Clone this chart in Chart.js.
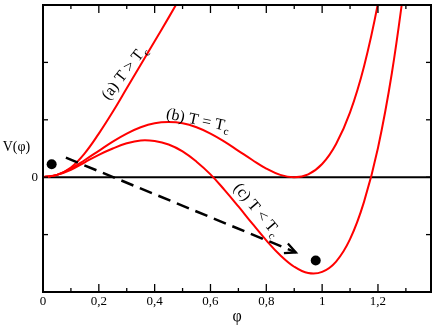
<!DOCTYPE html>
<html>
<head>
<meta charset="utf-8">
<script src="https://cdn.jsdelivr.net/npm/chart.js@4/dist/chart.umd.min.js"></script>
<style>
html,body{margin:0;padding:0;background:#fff;}
canvas{display:block;}
</style>
</head>
<body>
<canvas id="c" width="436" height="327"></canvas>
<script>
// ---- data ----
const phiA = [0, 0.05, 0.1, 0.15, 0.2, 0.25, 0.3, 0.35, 0.4, 0.45, 0.5];
const vA   = [0, 0.04, 0.17, 0.42, 0.76, 1.14, 1.55, 1.96, 2.37, 2.78, 3.2];

const phiB = [0, 0.05, 0.1, 0.15, 0.2, 0.25, 0.3, 0.35, 0.4, 0.45, 0.5, 0.55, 0.6, 0.65, 0.7, 0.75, 0.8, 0.85, 0.9, 0.95, 1.0, 1.05, 1.1, 1.15, 1.2, 1.25];
const vB   = [0, 0.04, 0.15, 0.30, 0.46, 0.62, 0.76, 0.87, 0.94, 0.96, 0.94, 0.87, 0.76, 0.62, 0.46, 0.30, 0.15, 0.04, 0, 0.05, 0.23, 0.58, 1.13, 1.93, 3.03, 4.48];

const phiC = [0, 0.05, 0.1, 0.15, 0.2, 0.25, 0.3, 0.35, 0.4, 0.45, 0.5, 0.55, 0.6, 0.65, 0.7, 0.75, 0.8, 0.85, 0.9, 0.95, 1.0, 1.05, 1.1, 1.15, 1.2, 1.25, 1.3];
const vC   = [0, 0.04, 0.13, 0.26, 0.39, 0.50, 0.59, 0.64, 0.63, 0.57, 0.45, 0.27, 0.05, -0.22, -0.51, -0.81, -1.10, -1.36, -1.56, -1.67, -1.65, -1.47, -1.08, -0.43, 0.51, 1.82, 3.53];

const zeroPhi = [0, 1.39];
const zeroV   = [0, 0];

const arrowPhi = [0.082, 0.906];
const arrowV   = [0.34, -1.31];

const dotPhi = [0.031, 0.977];
const dotV   = [0.227, -1.45];

const xTicks      = [0, 0.2, 0.4, 0.6, 0.8, 1.0, 1.2];
const xTickLabels = ['0', '0,2', '0,4', '0,6', '0,8', '1', '1,2'];
const xMinor      = [0.1, 0.3, 0.5, 0.7, 0.9, 1.1, 1.3];
const yTicks      = [-2, -1, 0, 1, 2, 3];
const yTickLabels = ['', '', '0', '', '', ''];

const labels = [
  {phi: 0.29, v: 1.82, rot: -52, main: '(a) T > T', sub: 'c'},
  {phi: 0.555, v: 1.0, rot: 12,  main: '(b) T = T', sub: 'c'},
  {phi: 0.767, v: -0.56, rot: 50, main: '(c) T < T', sub: 'c'}
];

// ---- build ----
const pts = (xs, ys) => xs.map((x, i) => ({x: x, y: ys[i]}));
const FAMILY = "'Liberation Serif', 'DejaVu Serif', serif";
const RED = '#ff0000';

const curve = (xs, ys) => ({
  data: pts(xs, ys), showLine: true, borderColor: RED, borderWidth: 2,
  pointRadius: 0, fill: false, tension: 0.4, order: 5
});

const overlay = {
  id: 'overlay',
  afterDatasetsDraw(chart) {
    const ctx = chart.ctx, a = chart.chartArea, x = chart.scales.x, y = chart.scales.y;
    const seg = (x1, y1, x2, y2) => { ctx.beginPath(); ctx.moveTo(x1, y1); ctx.lineTo(x2, y2); ctx.stroke(); };
    ctx.save();
    ctx.strokeStyle = '#000';
    // ticks (inward)
    ctx.lineWidth = 1.3;
    xTicks.forEach(v => { const p = x.getPixelForValue(v); seg(p, a.bottom, p, a.bottom - 8); seg(p, a.top, p, a.top + 8); });
    xMinor.forEach(v => { const p = x.getPixelForValue(v); seg(p, a.bottom, p, a.bottom - 4); seg(p, a.top, p, a.top + 4); });
    yTicks.forEach(v => { const p = y.getPixelForValue(v); seg(a.left, p, a.left + 5, p); seg(a.right, p, a.right - 5, p); });
    // frame
    ctx.lineWidth = 2;
    ctx.strokeRect(a.left, a.top, a.right - a.left, a.bottom - a.top);
    // arrow head
    const x1 = x.getPixelForValue(arrowPhi[0]), y1 = y.getPixelForValue(arrowV[0]);
    const x2 = x.getPixelForValue(arrowPhi[1]), y2 = y.getPixelForValue(arrowV[1]);
    const ang = Math.atan2(y2 - y1, x2 - x1), L = 12, w = 0.45;
    ctx.lineWidth = 2.3;
    ctx.beginPath();
    ctx.moveTo(x2 - L * Math.cos(ang - w), y2 - L * Math.sin(ang - w));
    ctx.lineTo(x2, y2);
    ctx.lineTo(x2 - L * Math.cos(ang + w), y2 - L * Math.sin(ang + w));
    ctx.stroke();
    // y axis title
    ctx.fillStyle = '#000';
    ctx.font = '14px ' + FAMILY;
    ctx.textAlign = 'center';
    ctx.textBaseline = 'middle';
    ctx.fillText('V(\u03C6)', 16.5, (a.top + a.bottom) / 2 - 1);
    // curve labels
    labels.forEach(l => {
      const px = x.getPixelForValue(l.phi), py = y.getPixelForValue(l.v);
      ctx.save();
      ctx.translate(px, py);
      ctx.rotate(l.rot * Math.PI / 180);
      ctx.font = '16px ' + FAMILY;
      const wm = ctx.measureText(l.main).width;
      ctx.font = '11px ' + FAMILY;
      const ws = ctx.measureText(l.sub).width;
      const x0 = -(wm + ws) / 2;
      ctx.textAlign = 'left';
      ctx.textBaseline = 'alphabetic';
      ctx.font = '16px ' + FAMILY;
      ctx.fillText(l.main, x0, 5);
      ctx.font = '11px ' + FAMILY;
      ctx.fillText(l.sub, x0 + wm + 0.5, 9);
      ctx.restore();
    });
    ctx.restore();
  }
};

new Chart(document.getElementById('c'), {
  type: 'scatter',
  data: {
    datasets: [
      {data: pts(zeroPhi, zeroV), showLine: true, borderColor: '#000', borderWidth: 2, pointRadius: 0, order: 10},
      curve(phiA, vA),
      curve(phiB, vB),
      curve(phiC, vC),
      {data: pts(arrowPhi, arrowV), showLine: true, borderColor: '#000', borderWidth: 2.5, borderDash: [13, 7], pointRadius: 0, order: 3},
      {data: pts(dotPhi, dotV), showLine: false, pointRadius: 5, pointBackgroundColor: '#000', pointBorderColor: '#000', pointBorderWidth: 0, order: 1}
    ]
  },
  options: {
    responsive: false,
    animation: false,
    events: [],
    layout: {padding: {top: 3, right: 5, left: 0, bottom: 0}},
    plugins: {legend: {display: false}, tooltip: {enabled: false}},
    scales: {
      x: {
        type: 'linear', min: 0, max: 1.39,
        grid: {display: false, drawTicks: false},
        border: {display: false},
        afterBuildTicks: s => { s.ticks = xTicks.map(v => ({value: v})); },
        afterFit: s => { s.height = 35; s.paddingLeft = 0; s.paddingRight = 0; },
        ticks: {
          color: '#000', font: {family: FAMILY, size: 13}, padding: 2,
          maxRotation: 0, autoSkip: false,
          callback: (v, i) => xTickLabels[i]
        },
        title: {display: true, text: '\u03C6', color: '#000', font: {family: FAMILY, size: 16}, padding: {top: 0, bottom: 1}}
      },
      y: {
        type: 'linear', min: -2, max: 3,
        grid: {display: false, drawTicks: false},
        border: {display: false},
        afterBuildTicks: s => { s.ticks = yTicks.map(v => ({value: v})); },
        afterFit: s => { s.width = 43; s.paddingTop = 0; s.paddingBottom = 0; },
        ticks: {
          color: '#000', font: {family: FAMILY, size: 13}, padding: 5,
          autoSkip: false,
          callback: (v, i) => yTickLabels[i]
        }
      }
    }
  },
  plugins: [overlay]
});
</script>
</body>
</html>
